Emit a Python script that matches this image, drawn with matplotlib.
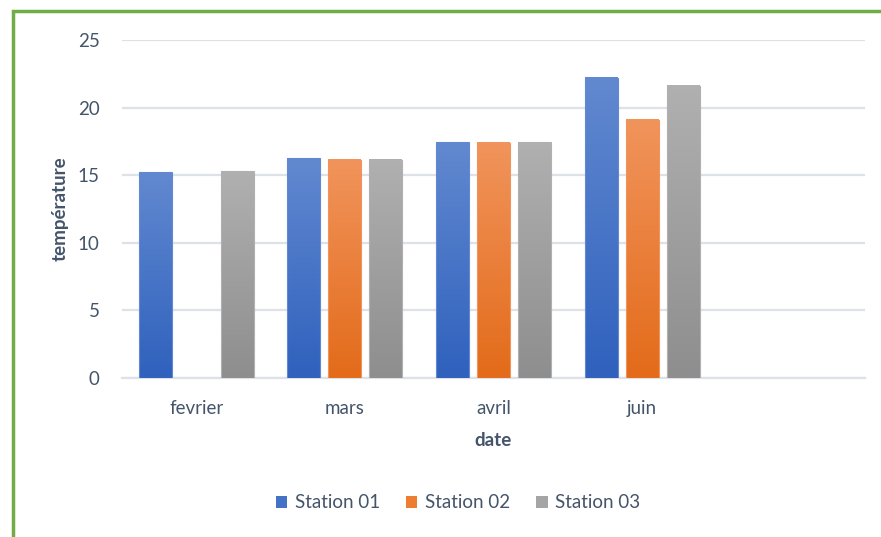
import numpy as np
import matplotlib
matplotlib.use("Agg")
import matplotlib.pyplot as plt
from matplotlib.colors import LinearSegmentedColormap
from matplotlib.patches import Rectangle

# Monthly mean temperature per station
categories = ["fevrier", "mars", "avril", "juin", ""]
station_01 = [15.2, 16.25, 17.45, 22.2, np.nan]
station_02 = [np.nan, 16.15, 17.4, 19.1, np.nan]
station_03 = [15.3, 16.15, 17.45, 21.6, np.nan]
series_names = ["Station 01", "Station 02", "Station 03"]
y_ticks = [0, 5, 10, 15, 20, 25]

# (top colour, bottom colour) for each series' gradient fill
gradients = [("#6289d0", "#2f61bd"),
             ("#f1945c", "#e36b1a"),
             ("#b0b0b0", "#8e8e8e")]
solid = ["#4472c4", "#ed7d31", "#a5a5a5"]
text_col = "#44546a"
grid_col = "#dde1e8"

plt.rcParams["font.family"] = ["Lato", "DejaVu Sans"]

fig = plt.figure(figsize=(8.81, 5.37), dpi=100)
W, H = 881, 537
ax = fig.add_axes([122 / W, (H - 378) / H, (865 - 122) / W, (378 - 40) / H])

x = np.arange(len(categories))
bar_w = 0.222
step = 0.276
all_series = [station_01, station_02, station_03]

grad = np.linspace(0, 1, 256).reshape(-1, 1)
for i, (vals, (top, bot)) in enumerate(zip(all_series, gradients)):
    cmap = LinearSegmentedColormap.from_list(f"g{i}", [bot, top])
    for xi, v in zip(x, vals):
        if np.isnan(v):
            continue
        x0 = xi + (i - 1) * step - bar_w / 2
        ax.imshow(grad, cmap=cmap, origin="lower", aspect="auto",
                  extent=(x0, x0 + bar_w, 0, v), zorder=3,
                  interpolation="bilinear")
        ax.add_patch(Rectangle((x0, 0), bar_w, v, fill=False,
                               edgecolor=top, linewidth=0.8, zorder=4))

ax.set_xlim(-0.5, len(categories) - 0.5)
ax.set_ylim(0, 25)
ax.set_yticks(y_ticks)
ax.set_xticks(x)
ax.set_xticklabels(categories)
ax.grid(axis="y", color=grid_col, linewidth=1.6, zorder=0)
ax.set_axisbelow(True)
for s in ["top", "right", "left"]:
    ax.spines[s].set_visible(False)
ax.spines["bottom"].set_color(grid_col)
ax.spines["bottom"].set_linewidth(1.6)
ax.tick_params(axis="both", length=0, labelsize=13.5, labelcolor=text_col)
ax.tick_params(axis="y", pad=16)
ax.tick_params(axis="x", pad=16)

fig.text(60 / W, 1 - 209 / H, "température", rotation=90, ha="center",
         va="center", fontsize=13.5, fontweight="bold", color=text_col)
fig.text(493 / W, 1 - 440 / H, "date", ha="center", va="center",
         fontsize=13.5, fontweight="bold", color=text_col)

handles = [Rectangle((0, 0), 1, 1, facecolor=c, edgecolor="none") for c in solid]
fig.legend(handles, series_names, loc="center", bbox_to_anchor=(458 / W, 1 - 503 / H),
           ncol=3, frameon=False, fontsize=13.5, labelcolor=text_col,
           handlelength=0.6, handleheight=0.6, handletextpad=0.4, columnspacing=1.4)

# Green frame around the chart area
fig.add_artist(Rectangle((12.5 / W, -0.1), 1.2, 1.1 - 10.5 / H, transform=fig.transFigure,
                         fill=False, edgecolor="#70ad47", linewidth=2.5))

fig.savefig("out.png", dpi=100)
